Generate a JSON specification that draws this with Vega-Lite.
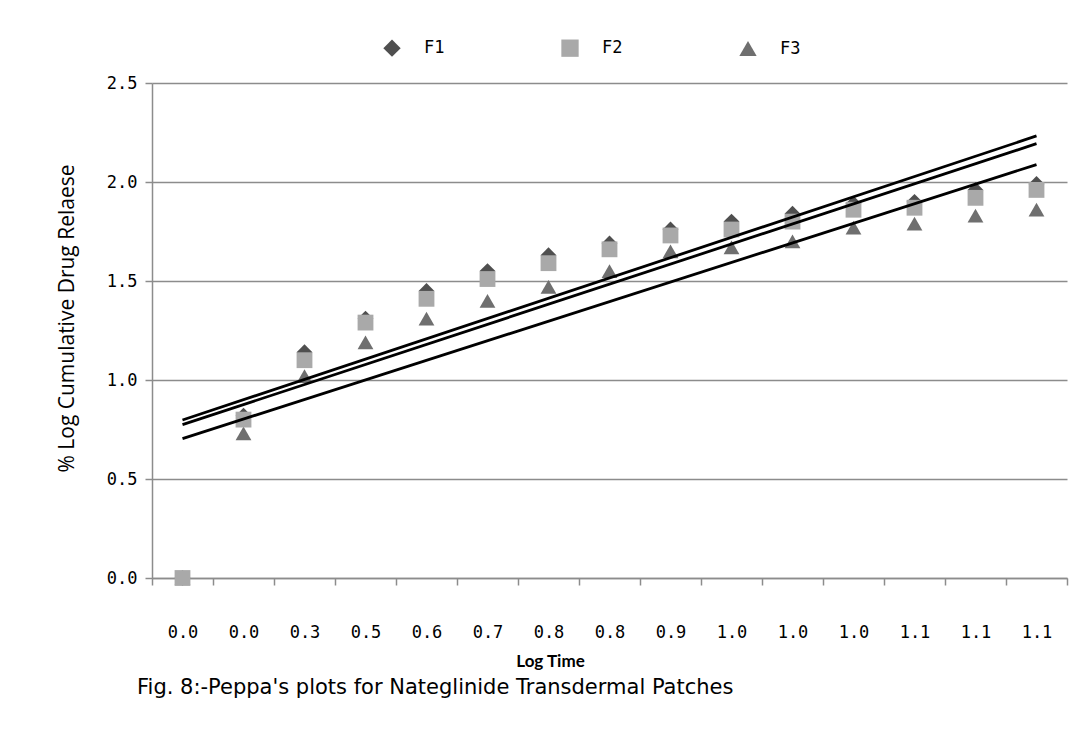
{
  "$schema": "https://vega.github.io/schema/vega-lite/v6.json",
  "width": 915,
  "height": 495,
  "autosize": "none",
  "padding": {"left": 152, "top": 83, "right": 20, "bottom": 162},
  "background": "white",
  "config": {
    "view": {"stroke": null},
    "axis": {"labelColor": "#000000", "titleColor": "#000000"}
  },
  "title": {
    "text": "Fig. 8:-Peppa's plots for Nateglinide Transdermal  Patches",
    "orient": "bottom",
    "anchor": "start",
    "frame": "group",
    "dx": -15,
    "offset": 8,
    "font": "DejaVu Sans",
    "fontSize": 21,
    "fontWeight": "normal",
    "color": "#000000"
  },
  "data": {
    "values": [
      {"idx": 1, "series": "F1", "pct": 0.0},
      {"idx": 2, "series": "F1", "pct": 0.82},
      {"idx": 3, "series": "F1", "pct": 1.14},
      {"idx": 4, "series": "F1", "pct": 1.31},
      {"idx": 5, "series": "F1", "pct": 1.45},
      {"idx": 6, "series": "F1", "pct": 1.55},
      {"idx": 7, "series": "F1", "pct": 1.63},
      {"idx": 8, "series": "F1", "pct": 1.69},
      {"idx": 9, "series": "F1", "pct": 1.76},
      {"idx": 10, "series": "F1", "pct": 1.80},
      {"idx": 11, "series": "F1", "pct": 1.84},
      {"idx": 12, "series": "F1", "pct": 1.89},
      {"idx": 13, "series": "F1", "pct": 1.90},
      {"idx": 14, "series": "F1", "pct": 1.96},
      {"idx": 15, "series": "F1", "pct": 1.99},
      {"idx": 1, "series": "F3", "pct": 0.0},
      {"idx": 2, "series": "F3", "pct": 0.73},
      {"idx": 3, "series": "F3", "pct": 1.02},
      {"idx": 4, "series": "F3", "pct": 1.19},
      {"idx": 5, "series": "F3", "pct": 1.31},
      {"idx": 6, "series": "F3", "pct": 1.40},
      {"idx": 7, "series": "F3", "pct": 1.47},
      {"idx": 8, "series": "F3", "pct": 1.55},
      {"idx": 9, "series": "F3", "pct": 1.65},
      {"idx": 10, "series": "F3", "pct": 1.67},
      {"idx": 11, "series": "F3", "pct": 1.70},
      {"idx": 12, "series": "F3", "pct": 1.77},
      {"idx": 13, "series": "F3", "pct": 1.79},
      {"idx": 14, "series": "F3", "pct": 1.83},
      {"idx": 15, "series": "F3", "pct": 1.86},
      {"idx": 1, "series": "F2", "pct": 0.0},
      {"idx": 2, "series": "F2", "pct": 0.80},
      {"idx": 3, "series": "F2", "pct": 1.10},
      {"idx": 4, "series": "F2", "pct": 1.29},
      {"idx": 5, "series": "F2", "pct": 1.41},
      {"idx": 6, "series": "F2", "pct": 1.51},
      {"idx": 7, "series": "F2", "pct": 1.59},
      {"idx": 8, "series": "F2", "pct": 1.66},
      {"idx": 9, "series": "F2", "pct": 1.73},
      {"idx": 10, "series": "F2", "pct": 1.76},
      {"idx": 11, "series": "F2", "pct": 1.80},
      {"idx": 12, "series": "F2", "pct": 1.86},
      {"idx": 13, "series": "F2", "pct": 1.87},
      {"idx": 14, "series": "F2", "pct": 1.92},
      {"idx": 15, "series": "F2", "pct": 1.96}
    ]
  },
  "layer": [
    {
      "mark": {"type": "point", "filled": true, "opacity": 1, "size": 250, "strokeWidth": 0},
      "encoding": {
        "x": {
          "field": "idx",
          "type": "ordinal",
          "sort": null,
          "bandPosition": 0.5,
          "scale": {"type": "band", "paddingInner": 0, "paddingOuter": 0},
          "axis": {
            "labelExpr": "['0.0','0.0','0.3','0.5','0.6','0.7','0.8','0.8','0.9','1.0','1.0','1.0','1.1','1.1','1.1'][datum.value - 1]",
            "labelAngle": 0,
            "labelFont": "DejaVu Sans Mono",
            "labelFontSize": 17,
            "labelPadding": 39,
            "tickBand": "extent",
            "tickSize": 7,
            "tickColor": "#8c8c8c",
            "tickWidth": 1.5,
            "domainColor": "#8c8c8c",
            "domainWidth": 1.5,
            "grid": false,
            "title": "Log Time",
            "titleFont": "Lato",
            "titleFontSize": 17,
            "titleFontWeight": "bold",
            "titleX": 398,
            "titleY": 83,
            "titleAlign": "center",
            "titleBaseline": "middle"
          }
        },
        "y": {
          "field": "pct",
          "type": "quantitative",
          "scale": {"domain": [0, 2.5], "nice": false, "zero": true},
          "axis": {
            "values": [0, 0.5, 1, 1.5, 2, 2.5],
            "format": ".1f",
            "labelFont": "DejaVu Sans Mono",
            "labelFontSize": 17,
            "labelPadding": 8,
            "tickSize": 7,
            "tickColor": "#8c8c8c",
            "tickWidth": 1.5,
            "domainColor": "#8c8c8c",
            "domainWidth": 1.5,
            "grid": true,
            "gridColor": "#8c8c8c",
            "gridWidth": 1.5,
            "title": "% Log Cumulative Drug Relaese",
            "titleFont": "Open Sans",
            "titleFontSize": 21,
            "titleFontWeight": "normal",
            "titleAngle": -90,
            "titleX": -85,
            "titleY": 235,
            "titleAlign": "center",
            "titleBaseline": "middle"
          }
        },
        "color": {
          "field": "series",
          "type": "nominal",
          "scale": {"domain": ["F1", "F2", "F3"], "range": ["#4f4f4f", "#a9a9a9", "#6f6f6f"]},
          "legend": {
            "orient": "none",
            "legendX": 231,
            "legendY": -44,
            "direction": "horizontal",
            "title": null,
            "padding": 0,
            "labelFont": "DejaVu Sans Mono",
            "labelFontSize": 17,
            "labelColor": "#000000",
            "symbolSize": 300,
            "symbolStrokeWidth": 0,
            "labelOffset": 23,
            "columnPadding": 116
          }
        },
        "shape": {
          "field": "series",
          "type": "nominal",
          "scale": {"domain": ["F1", "F2", "F3"], "range": ["diamond", "square", "triangle-up"]},
          "legend": {
            "orient": "none",
            "legendX": 231,
            "legendY": -44,
            "direction": "horizontal",
            "title": null,
            "padding": 0,
            "labelFont": "DejaVu Sans Mono",
            "labelFontSize": 17,
            "labelColor": "#000000",
            "symbolSize": 300,
            "symbolStrokeWidth": 0,
            "labelOffset": 23,
            "columnPadding": 116
          }
        }
      }
    },
    {
      "transform": [
        {"regression": "pct", "on": "idx", "groupby": ["series"], "method": "linear"}
      ],
      "mark": {"type": "line", "color": "#000000", "strokeWidth": 2.8},
      "encoding": {
        "x": {
          "field": "idx",
          "type": "quantitative",
          "scale": {"domain": [0.5, 15.5], "nice": false, "zero": false},
          "axis": null
        },
        "y": {
          "field": "pct",
          "type": "quantitative",
          "scale": {"domain": [0, 2.5], "nice": false, "zero": true}
        },
        "detail": {"field": "series", "type": "nominal"}
      }
    }
  ],
  "resolve": {"scale": {"x": "independent"}}
}
